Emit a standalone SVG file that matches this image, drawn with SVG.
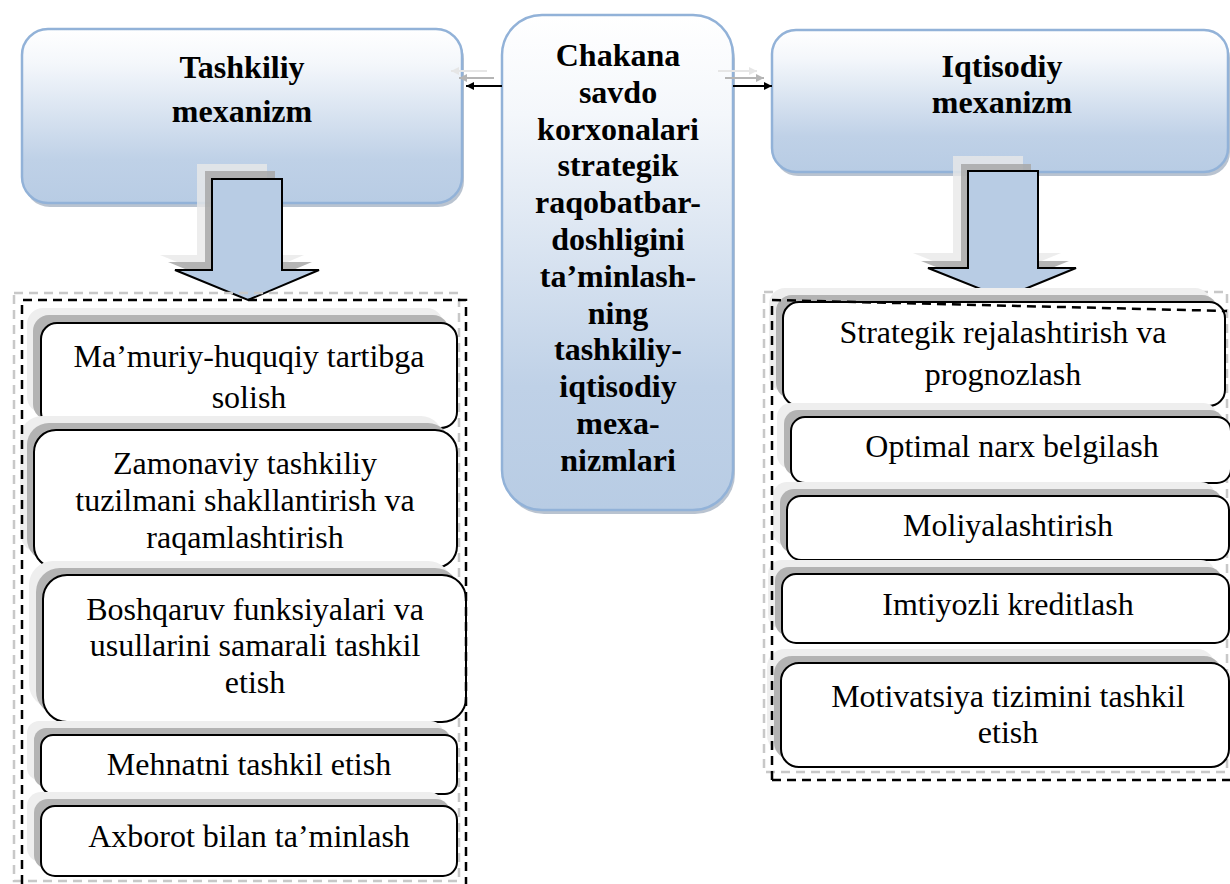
<svg xmlns="http://www.w3.org/2000/svg" width="1230" height="884" viewBox="0 0 1230 884">
<defs>
<linearGradient id="blueGrad" x1="0" y1="0" x2="0" y2="1">
<stop offset="0" stop-color="#ffffff"/>
<stop offset="0.2" stop-color="#f4f7fb"/>
<stop offset="0.75" stop-color="#bfd1e7"/>
<stop offset="1" stop-color="#b8cce4"/>
</linearGradient>
<marker id="ah" viewBox="0 0 10 10" refX="10" refY="5" markerWidth="8" markerHeight="8" markerUnits="userSpaceOnUse" orient="auto">
<path d="M0,0 L10,5 L0,10 z" fill="#000"/>
</marker>
<marker id="ahg" viewBox="0 0 10 10" refX="10" refY="5" markerWidth="8" markerHeight="8" markerUnits="userSpaceOnUse" orient="auto">
<path d="M0,0 L10,5 L0,10 z" fill="#b5b5b5"/>
</marker>
<marker id="ahl" viewBox="0 0 10 10" refX="10" refY="5" markerWidth="8" markerHeight="8" markerUnits="userSpaceOnUse" orient="auto">
<path d="M0,0 L10,5 L0,10 z" fill="#e6e6e6"/>
</marker>
</defs>
<style>
.main{fill:url(#blueGrad);stroke:#92b2d8;stroke-width:2.5}
.mshadow{fill:#8a9bb0;opacity:0.6}
.title{font-family:"Liberation Serif","Times New Roman",serif;font-weight:bold;font-size:32px;fill:#000;text-anchor:middle}
.item{fill:#fff;stroke:#000;stroke-width:2}
.sd{fill:#b3b3b3}
.sl{fill:#eeeeee}
.txt{font-family:"Liberation Serif","Times New Roman",serif;font-size:32px;fill:#000;text-anchor:middle}
.blk{fill:none;stroke:#000;stroke-width:2.5;stroke-dasharray:9,6}
.gry{fill:none;stroke:#c8c8c8;stroke-width:2.5;stroke-dasharray:9,6}
.arr{fill:#b8cce4;stroke:#000;stroke-width:2}
.conn{stroke:#000;stroke-width:2;fill:none}
</style>

<!-- Top left box -->
<g id="tashkiliy">
<rect class="mshadow" x="24" y="33" width="440" height="174" rx="26"/>
<rect class="main" x="22" y="29" width="440" height="174" rx="26"/>
<text class="title" x="242" y="78">Tashkiliy</text>
<text class="title" x="242" y="122">mexanizm</text>
</g>

<!-- Top right box -->
<g id="iqtisodiy">
<rect class="mshadow" x="774" y="34" width="456" height="142" rx="24"/>
<rect class="main" x="772" y="30" width="456" height="142" rx="24"/>
<text class="title" x="1002" y="77">Iqtisodiy</text>
<text class="title" x="1002" y="113">mexanizm</text>
</g>

<!-- Center box -->
<g id="center">
<rect class="mshadow" x="504" y="19" width="231" height="495" rx="40"/>
<rect class="main" x="502" y="15" width="231" height="495" rx="40"/>
<text class="title" x="618" y="66">Chakana</text>
<text class="title" x="618" y="102.8">savdo</text>
<text class="title" x="618" y="139.6">korxonalari</text>
<text class="title" x="618" y="176.4">strategik</text>
<text class="title" x="618" y="213.2">raqobatbar-</text>
<text class="title" x="618" y="250">doshligini</text>
<text class="title" x="618" y="286.8">ta’minlash-</text>
<text class="title" x="618" y="323.6">ning</text>
<text class="title" x="618" y="360.4">tashkiliy-</text>
<text class="title" x="618" y="397.2">iqtisodiy</text>
<text class="title" x="618" y="434">mexa-</text>
<text class="title" x="618" y="470.8">nizmlari</text>
</g>

<!-- Connectors -->
<g id="connectors">
<line x1="487" y1="71" x2="451" y2="71" stroke="#e6e6e6" stroke-width="2" marker-end="url(#ahl)"/>
<line x1="494" y1="78" x2="459" y2="78" stroke="#b5b5b5" stroke-width="2" marker-end="url(#ahg)"/>
<line class="conn" x1="502" y1="86" x2="466" y2="86" marker-end="url(#ah)"/>
<line x1="718" y1="71" x2="757" y2="71" stroke="#e6e6e6" stroke-width="2" marker-end="url(#ahl)"/>
<line x1="725" y1="78" x2="764" y2="78" stroke="#b5b5b5" stroke-width="2" marker-end="url(#ahg)"/>
<line class="conn" x1="733" y1="86" x2="772" y2="86" marker-end="url(#ah)"/>
<!-- left down block arrow -->
<path d="M197,164 L267,164 L267,255 L304,255 L233,285 L160,255 L197,255 z" fill="#e8e8e8" opacity="0.8"/>
<path d="M205,171 L275,171 L275,262 L312,262 L241,292 L168,262 L205,262 z" fill="#a8a8a8" opacity="0.85"/>
<path class="arr" d="M212,179 L282,179 L282,270 L319,270 L248,300 L175,270 L212,270 z"/>
<!-- right down block arrow -->
<path d="M953,156 L1023,156 L1023,253 L1061,253 L988,283 L913,253 L953,253 z" fill="#e8e8e8" opacity="0.8"/>
<path d="M961,164 L1031,164 L1031,261 L1069,261 L996,291 L921,261 L961,261 z" fill="#a8a8a8" opacity="0.85"/>
<path class="arr" d="M968,171 L1038,171 L1038,268 L1076,268 L1003,298 L928,268 L968,268 z"/>
</g>

<!-- Left container -->
<g id="left-group">
<rect class="gry" x="14" y="293" width="445" height="588"/>
<g id="l1">
<rect class="sl" x="27" y="308" width="416" height="105" rx="16"/>
<rect class="sd" x="33" y="315" width="416" height="105" rx="16"/>
<rect class="item" x="41" y="323" width="416" height="105" rx="16"/>
<text class="txt" x="249" y="367">Ma’muriy-huquqiy tartibga</text>
<text class="txt" x="249" y="408">solish</text>
</g>
<g id="l2">
<rect class="sl" x="20" y="416" width="423" height="138" rx="22"/>
<rect class="sd" x="27" y="423" width="423" height="138" rx="22"/>
<rect class="item" x="34" y="430" width="423" height="138" rx="22"/>
<text class="txt" x="245" y="474">Zamonaviy tashkiliy</text>
<text class="txt" x="245" y="511">tuzilmani shakllantirish va</text>
<text class="txt" x="245" y="548">raqamlashtirish</text>
</g>
<g id="l3">
<rect class="sl" x="29" y="561" width="423" height="147" rx="24"/>
<rect class="sd" x="36" y="568" width="423" height="147" rx="24"/>
<rect class="item" x="43" y="575" width="423" height="147" rx="24"/>
<text class="txt" x="255" y="620">Boshqaruv funksiyalari va</text>
<text class="txt" x="255" y="656">usullarini samarali tashkil</text>
<text class="txt" x="255" y="693">etish</text>
</g>
<g id="l4">
<rect class="sl" x="27" y="721" width="416" height="59" rx="12"/>
<rect class="sd" x="34" y="728" width="416" height="59" rx="12"/>
<rect class="item" x="41" y="735" width="416" height="59" rx="12"/>
<text class="txt" x="249" y="775">Mehnatni tashkil etish</text>
</g>
<g id="l5">
<rect class="sl" x="27" y="792" width="416" height="70" rx="14"/>
<rect class="sd" x="34" y="799" width="416" height="70" rx="14"/>
<rect class="item" x="41" y="806" width="416" height="70" rx="14"/>
<text class="txt" x="249" y="847">Axborot bilan ta’minlash</text>
</g>
<path class="blk" d="M22,884 L22,300 L466,300 L466,884"/>
</g>

<!-- Right container -->
<g id="right-group">
<rect class="gry" x="764" y="292" width="463" height="480"/>
<g id="r1">
<rect class="sl" x="769" y="288" width="442" height="104" rx="16"/>
<rect class="sd" x="776" y="295" width="442" height="104" rx="16"/>
<rect class="item" x="783" y="302" width="442" height="104" rx="16"/>
<text class="txt" x="1003" y="343">Strategik rejalashtirish va</text>
<text class="txt" x="1003" y="385">prognozlash</text>
</g>
<g id="r2">
<rect class="sl" x="777" y="403" width="440" height="66" rx="14"/>
<rect class="sd" x="784" y="410" width="440" height="66" rx="14"/>
<rect class="item" x="791" y="417" width="440" height="66" rx="14"/>
<text class="txt" x="1012" y="457">Optimal narx belgilash</text>
</g>
<g id="r3">
<rect class="sl" x="773" y="482" width="442" height="64" rx="14"/>
<rect class="sd" x="780" y="489" width="442" height="64" rx="14"/>
<rect class="item" x="787" y="496" width="442" height="64" rx="14"/>
<text class="txt" x="1008" y="536">Moliyalashtirish</text>
</g>
<g id="r4">
<rect class="sl" x="768" y="560" width="447" height="69" rx="14"/>
<rect class="sd" x="775" y="567" width="447" height="69" rx="14"/>
<rect class="item" x="782" y="574" width="447" height="69" rx="14"/>
<text class="txt" x="1008" y="615">Imtiyozli kreditlash</text>
</g>
<g id="r5">
<rect class="sl" x="767" y="649" width="448" height="104" rx="18"/>
<rect class="sd" x="774" y="656" width="448" height="104" rx="18"/>
<rect class="item" x="781" y="663" width="448" height="104" rx="18"/>
<text class="txt" x="1008" y="707">Motivatsiya tizimini tashkil</text>
<text class="txt" x="1008" y="743">etish</text>
</g>
<path class="blk" d="M772,780 L772,300 L1227,311 M772,780 L1230,780"/>
</g>
</svg>
